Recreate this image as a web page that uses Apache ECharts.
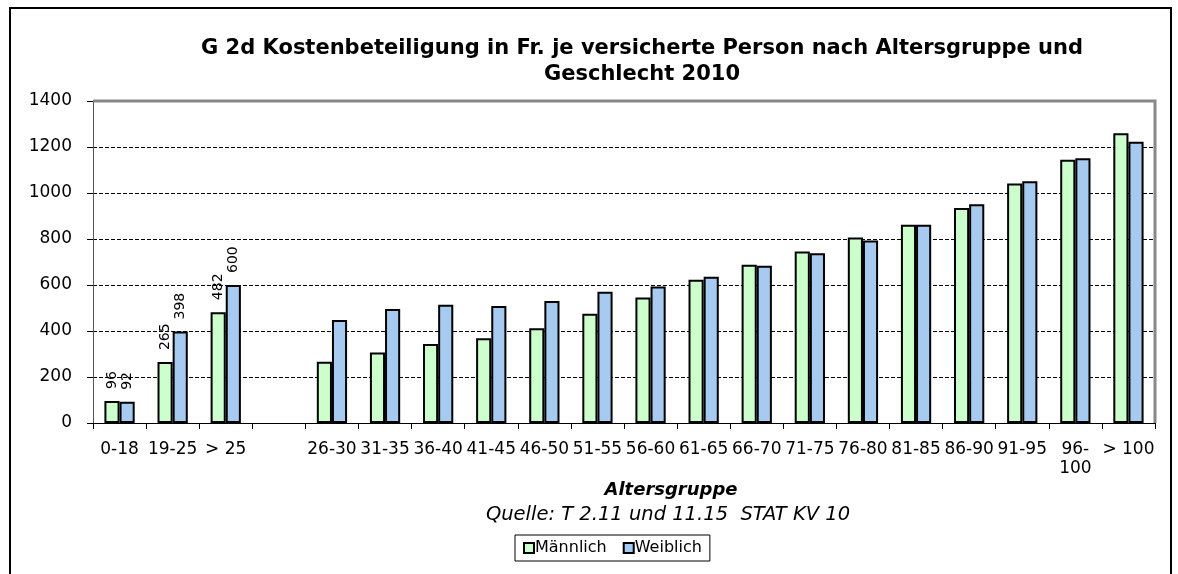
<!DOCTYPE html>
<html>
<head>
<meta charset="utf-8">
<script src="https://cdn.jsdelivr.net/npm/echarts@6/dist/echarts.min.js"></script>
<style>
html,body{margin:0;padding:0;background:#fff;}
#c{width:1178px;height:574px;}
</style>
</head>
<body>
<div id="c"></div>
<script>
const categories = ['0-18','19-25','> 25','','26-30','31-35','36-40','41-45','46-50','51-55','56-60','61-65','66-70','71-75','76-80','81-85','86-90','91-95','96-\n100','> 100'];
const maleValues = [96, 265, 482, null, 266, 306, 343, 368, 412, 475, 546, 623, 688, 746, 806, 862, 935, 1041, 1145, 1260];
const femaleValues = [92, 398, 600, null, 448, 496, 514, 509, 530, 571, 593, 636, 684, 738, 794, 862, 951, 1051, 1151, 1223];
const labelledCount = 3;

const font = 'DejaVu Sans, Verdana, sans-serif';

function withLabels(values) {
  return values.map((v, i) => i < labelledCount
    ? { value: v, label: { show: true } }
    : { value: v });
}

const labelStyle = {
  show: false,
  position: 'top',
  rotate: 90,
  align: 'left',
  verticalAlign: 'middle',
  distance: 12,
  fontFamily: font,
  fontSize: 14,
  color: '#000'
};

const chart = echarts.init(document.getElementById('c'), null, { renderer: 'canvas' });
chart.setOption({
  backgroundColor: '#fff',
  animation: false,
  title: {
    text: 'G 2d Kostenbeteiligung in Fr. je versicherte Person nach Altersgruppe und\nGeschlecht 2010',
    left: 637,
    textAlign: 'center',
    top: 31,
    textStyle: { fontFamily: font, fontSize: 21, fontWeight: 'bold', color: '#000', lineHeight: 26 }
  },
  graphic: [
    { type: 'rect', shape: { x: 10, y: 8, width: 1161, height: 580 }, style: { fill: 'none', stroke: '#000', lineWidth: 2 }, silent: true },
    { type: 'polyline', shape: { points: [[93, 101], [1155, 101], [1155, 423]] }, style: { fill: 'none', stroke: '#888', lineWidth: 3 }, z: 100, silent: true },
    { type: 'text', x: 671, y: 481, style: { text: 'Altersgruppe', font: 'italic bold 18px DejaVu Sans, Verdana, sans-serif', fill: '#000', textAlign: 'center' } },
    { type: 'text', x: 668, y: 505, style: { text: 'Quelle: T 2.11 und 11.15  STAT KV 10', font: 'italic 19.5px DejaVu Sans, Verdana, sans-serif', fill: '#000', textAlign: 'center' } }
  ],
  legend: {
    data: ['Männlich', 'Weiblich'],
    left: 515,
    top: 535,
    itemWidth: 10,
    itemHeight: 10,
    itemGap: 16,
    padding: [5, 8, 5, 8],
    borderColor: '#000',
    borderWidth: 1,
    icon: 'rect',
    textStyle: { fontFamily: font, fontSize: 16, color: '#000', padding: [0, 0, 0, -4] }
  },
  grid: {
    left: 93, right: 23, top: 101, bottom: 151,
    show: true, borderColor: '#888', borderWidth: 0, backgroundColor: '#fff'
  },
  xAxis: {
    type: 'category',
    data: categories,
    boundaryGap: true,
    axisLine: { lineStyle: { color: '#000', width: 1 } },
    axisTick: { show: true, alignWithLabel: false, length: 6, lineStyle: { color: '#000' } },
    axisLabel: { interval: 0, fontFamily: font, fontSize: 17, color: '#000', margin: 17, lineHeight: 19, verticalAlign: 'top' }
  },
  yAxis: {
    type: 'value',
    min: 0, max: 1400, interval: 200,
    axisLine: { show: true, lineStyle: { color: '#555', width: 1 } },
    axisTick: { show: true, length: 6, lineStyle: { color: '#000' } },
    axisLabel: { fontFamily: font, fontSize: 17, color: '#000', margin: 21, formatter: v => String(v) },
    splitLine: { show: true, lineStyle: { color: '#000', type: [4, 2], width: 1 } }
  },
  series: [
    {
      name: 'Männlich',
      type: 'bar',
      data: withLabels(maleValues),
      barGap: '0%',
      barCategoryGap: '43%',
      itemStyle: { color: '#ccffcc', borderColor: '#000', borderWidth: 2 },
      label: labelStyle
    },
    {
      name: 'Weiblich',
      type: 'bar',
      data: withLabels(femaleValues),
      itemStyle: { color: '#a6caf0', borderColor: '#000', borderWidth: 2 },
      label: labelStyle
    }
  ]
});
</script>
</body>
</html>
